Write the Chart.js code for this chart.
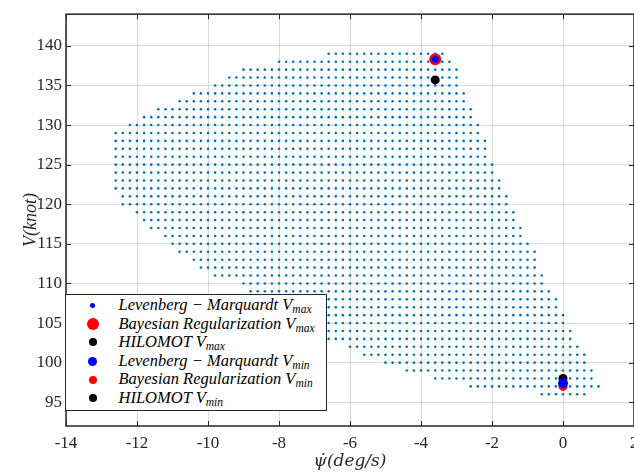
<!DOCTYPE html>
<html>
<head>
<meta charset="utf-8">
<script src="https://cdn.jsdelivr.net/npm/chart.js@4.4.1/dist/chart.umd.min.js"></script>
<style>
html, body { margin: 0; padding: 0; overflow: hidden; background: #fff; }
#wrap { position: relative; width: 660px; height: 476px; }
#legend {
  position: absolute; left: 65px; top: 294px; width: 262px; height: 117px;
  box-sizing: border-box; border: 1.5px solid #262626; background: #fff;
  padding-top: 1px; font: italic 16.5px "Liberation Serif", serif; color: #000;
}
.row { position: relative; height: 18.6px; line-height: 18.6px; padding-left: 52.5px; white-space: nowrap; }
.dot { position: absolute; border-radius: 50%; }
sub { font-size: 11.5px; line-height: 0; vertical-align: -3px; }
</style>
</head>
<body>
<div id="wrap">
  <canvas id="envelope" width="660" height="476"></canvas>
  <div id="legend"></div>
</div>
<script>
// flight envelope grid: one row per speed, dots every 0.2 deg/s between the row limits
const speedRows = [139, 138, 137, 136, 135, 134, 133, 132, 131, 130, 129, 128, 127, 126, 125,
                   124, 123, 122, 121, 120, 119, 118, 117, 116, 115, 114, 113, 112, 111, 110,
                   109, 108, 107, 106, 105, 104, 103, 102, 101, 100, 99, 98, 97, 96];
const psiLeft = [-6.6, -8.0, -9.0, -9.4, -9.8, -10.4, -10.8, -11.4, -11.8, -12.2, -12.6, -12.6, -12.6, -12.6, -12.6,
                 -12.6, -12.6, -12.6, -12.4, -12.4, -12.0, -11.8, -11.6, -11.2, -11.0, -10.8, -10.4, -10.2, -9.8, -9.0,
                 -8.8, -8.6, -8.4, -8.0, -7.8, -7.4, -7.0, -6.0, -5.6, -5.0, -4.4, -3.6, -2.6, -0.6];
const psiRight = [-3.4, -3.2, -3.0, -3.0, -3.0, -2.8, -2.8, -2.6, -2.6, -2.4, -2.4, -2.2, -2.2, -2.2, -2.0,
                  -2.0, -1.8, -1.8, -1.6, -1.6, -1.4, -1.4, -1.2, -1.2, -1.0, -0.8, -0.8, -0.8, -0.6, -0.6,
                  -0.4, -0.2, -0.2, 0.0, 0.0, 0.2, 0.2, 0.4, 0.6, 0.6, 0.8, 0.8, 1.0, 0.6];
const psiStep = 0.2;

// optimum points found by each training method
const lmVmax = [{x: -3.6, y: 138.3}];
const brVmax = [{x: -3.6, y: 138.3}];
const hilVmax = [{x: -3.6, y: 135.7}];
const lmVmin = [{x: 0, y: 97.4}];
const brVmin = [{x: 0, y: 97.0}];
const hilVmin = [{x: 0, y: 98.0}];

const psiTicks = [-14, -12, -10, -8, -6, -4, -2, 0, 2];
const speedTicks = [95, 100, 105, 110, 115, 120, 125, 130, 135, 140];

const envelopePoints = [];
speedRows.forEach((v, i) => {
  const n = Math.round((psiRight[i] - psiLeft[i]) / psiStep);
  for (let k = 0; k <= n; k++) {
    envelopePoints.push({x: +(psiLeft[i] + k * psiStep).toFixed(1), y: v});
  }
});

const markers = [
  {label: 'Levenberg − Marquardt V', sub: 'max', data: lmVmax, color: '#0000ff', r: 3.5, order: 1},
  {label: 'Bayesian Regularization V', sub: 'max', data: brVmax, color: '#ff0000', r: 6, order: 3},
  {label: 'HILOMOT V', sub: 'max', data: hilVmax, color: '#000000', r: 4.5, order: 2},
  {label: 'Levenberg − Marquardt V', sub: 'min', data: lmVmin, color: '#0000ff', r: 5, order: 1},
  {label: 'Bayesian Regularization V', sub: 'min', data: brVmin, color: '#ff0000', r: 4.5, order: 3},
  {label: 'HILOMOT V', sub: 'min', data: hilVmin, color: '#000000', r: 4.5, order: 2}
];
const legendRadius = [2.5, 6, 4, 4.5, 4, 4];

const serif = 'Liberation Serif';
const axisInk = '#262626';

// MATLAB style box with inward ticks
const boxPlugin = {
  id: 'box',
  afterDraw(chart) {
    const {ctx, chartArea: a, scales: {x, y}} = chart;
    ctx.save();
    ctx.strokeStyle = axisInk;
    ctx.lineWidth = 1;
    ctx.beginPath();
    x.ticks.forEach(t => {
      const px = Math.round(x.getPixelForValue(t.value)) + 0.5;
      ctx.moveTo(px, a.bottom); ctx.lineTo(px, a.bottom - 5);
      ctx.moveTo(px, a.top); ctx.lineTo(px, a.top + 5);
    });
    y.ticks.forEach(t => {
      const py = Math.round(y.getPixelForValue(t.value)) + 0.5;
      ctx.moveTo(a.left, py); ctx.lineTo(a.left + 5, py);
      ctx.moveTo(a.right, py); ctx.lineTo(a.right - 5, py);
    });
    ctx.stroke();
    ctx.lineWidth = 1.5;
    ctx.strokeRect(a.left, a.top, a.right - a.left, a.bottom - a.top);
    ctx.restore();
  }
};

const datasets = [{
  label: 'envelope',
  data: envelopePoints,
  backgroundColor: 'rgb(0,114,189)',
  borderWidth: 0,
  pointRadius: 1.3,
  order: 10
}].concat(markers.map(m => ({
  label: m.label + m.sub,
  data: m.data,
  backgroundColor: m.color,
  borderWidth: 0,
  pointRadius: m.r,
  order: m.order
})));

new Chart(document.getElementById('envelope'), {
  type: 'scatter',
  data: {datasets: datasets},
  options: {
    responsive: false,
    animation: false,
    events: [],
    layout: {padding: {left: 0, top: 9, right: 26, bottom: 0}},
    plugins: {legend: {display: false}, tooltip: {enabled: false}},
    scales: {
      x: {
        type: 'linear', min: -14, max: 2,
        afterBuildTicks: s => { s.ticks = psiTicks.map(v => ({value: v})); },
        afterFit: s => { s.height = 50; },
        grid: {color: 'rgba(0,0,0,0.14)', drawTicks: false},
        border: {display: false},
        ticks: {padding: 7, color: axisInk, font: {family: serif, size: 17}, callback: v => String(v)},
        title: {display: true, text: 'ψ̇(deg/s)', color: axisInk,
                font: {family: 'DejaVu Serif', size: 17, style: 'italic'}, padding: {top: 0, bottom: 4}}
      },
      y: {
        type: 'linear', min: 92, max: 144,
        afterBuildTicks: s => { s.ticks = speedTicks.map(v => ({value: v})); },
        afterFit: s => { s.width = 66; },
        grid: {color: 'rgba(0,0,0,0.14)', drawTicks: false},
        border: {display: false},
        ticks: {padding: 4, color: axisInk, font: {family: serif, size: 17}, callback: v => String(v)},
        title: {display: true, text: 'V(knot)', color: axisInk,
                font: {family: serif, size: 18, style: 'italic'}, padding: {top: 20, bottom: 0}}
      }
    }
  },
  plugins: [boxPlugin]
});

// legend with subscripts, as html text
const legend = document.getElementById('legend');
markers.forEach((m, i) => {
  const row = document.createElement('div');
  row.className = 'row';
  const r = legendRadius[i];
  const dot = document.createElement('span');
  dot.className = 'dot';
  dot.style.width = dot.style.height = (2 * r) + 'px';
  dot.style.left = (26.5 - r) + 'px';
  dot.style.top = (9.3 - r) + 'px';
  dot.style.background = m.color;
  row.appendChild(dot);
  const txt = document.createElement('span');
  txt.innerHTML = m.label + '<sub>' + m.sub + '</sub>';
  row.appendChild(txt);
  legend.appendChild(row);
});
</script>
</body>
</html>
